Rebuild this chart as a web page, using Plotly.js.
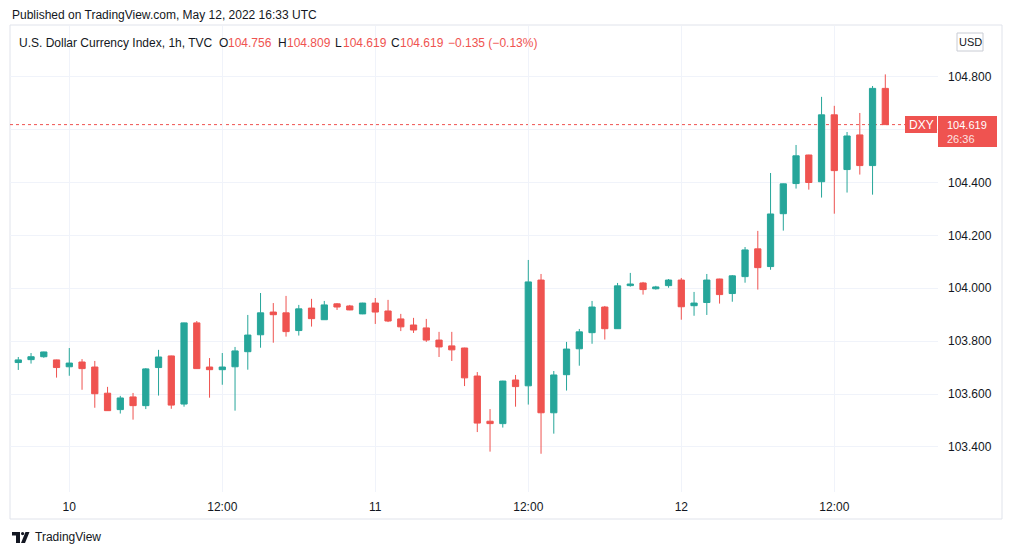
<!DOCTYPE html>
<html>
<head>
<meta charset="utf-8">
<script src="https://cdn.plot.ly/plotly-3.0.1.min.js"></script>
<style>html,body{margin:0;padding:0;background:#fff;}#chart{width:1012px;height:555px;}</style>
</head>
<body>
<div id="chart"></div>
<script>
const times = [
'2022-05-09 20:00','2022-05-09 21:00','2022-05-09 22:00','2022-05-09 23:00',
'2022-05-10 00:00','2022-05-10 01:00','2022-05-10 02:00','2022-05-10 03:00','2022-05-10 04:00','2022-05-10 05:00',
'2022-05-10 06:00','2022-05-10 07:00','2022-05-10 08:00','2022-05-10 09:00','2022-05-10 10:00','2022-05-10 11:00',
'2022-05-10 12:00','2022-05-10 13:00','2022-05-10 14:00','2022-05-10 15:00','2022-05-10 16:00','2022-05-10 17:00',
'2022-05-10 18:00','2022-05-10 19:00','2022-05-10 20:00','2022-05-10 21:00','2022-05-10 22:00','2022-05-10 23:00',
'2022-05-11 00:00','2022-05-11 01:00','2022-05-11 02:00','2022-05-11 03:00','2022-05-11 04:00','2022-05-11 05:00',
'2022-05-11 06:00','2022-05-11 07:00','2022-05-11 08:00','2022-05-11 09:00','2022-05-11 10:00','2022-05-11 11:00',
'2022-05-11 12:00','2022-05-11 13:00','2022-05-11 14:00','2022-05-11 15:00','2022-05-11 16:00','2022-05-11 17:00',
'2022-05-11 18:00','2022-05-11 19:00','2022-05-11 20:00','2022-05-11 21:00','2022-05-11 22:00','2022-05-11 23:00',
'2022-05-12 00:00','2022-05-12 01:00','2022-05-12 02:00','2022-05-12 03:00','2022-05-12 04:00','2022-05-12 05:00',
'2022-05-12 06:00','2022-05-12 07:00','2022-05-12 08:00','2022-05-12 09:00','2022-05-12 10:00','2022-05-12 11:00',
'2022-05-12 12:00','2022-05-12 13:00','2022-05-12 14:00','2022-05-12 15:00','2022-05-12 16:00'
];
const openV = [
103.719,103.730,103.741,103.729,
103.703,103.721,103.702,103.603,103.541,103.589,
103.556,103.700,103.744,103.562,103.869,103.702,
103.692,103.703,103.760,103.824,103.910,103.907,
103.840,103.925,103.881,103.941,103.933,103.903,
103.944,103.914,103.884,103.861,103.850,103.804,
103.782,103.774,103.668,103.497,103.488,103.653,
103.631,104.031,103.529,103.673,103.771,103.832,
103.929,103.847,104.010,104.020,103.998,104.010,
104.031,103.934,103.946,104.035,103.980,104.044,
104.149,104.082,104.282,104.396,104.504,104.403,
104.656,104.449,104.580,104.464,104.756
];
const highV = [
103.740,103.755,103.760,103.730,
103.774,103.732,103.725,103.627,103.593,103.604,
103.698,103.767,103.745,103.870,103.876,103.736,
103.755,103.778,103.899,103.982,103.944,103.971,
103.937,103.960,103.952,103.944,103.937,103.945,
103.963,103.956,103.903,103.888,103.884,103.835,
103.835,103.775,103.683,103.543,103.650,103.672,
104.107,104.054,103.687,103.797,103.846,103.952,
103.933,104.020,104.058,104.024,104.009,104.035,
104.039,103.986,104.054,104.036,104.050,104.156,
104.217,104.436,104.396,104.542,104.505,104.724,
104.690,104.591,104.663,104.765,104.809
];
const lowV = [
103.691,103.715,103.737,103.662,
103.669,103.616,103.548,103.536,103.526,103.503,
103.543,103.594,103.544,103.552,103.695,103.586,
103.635,103.537,103.692,103.775,103.794,103.817,
103.821,103.855,103.880,103.918,103.917,103.902,
103.865,103.872,103.838,103.831,103.797,103.740,
103.725,103.630,103.456,103.382,103.473,103.552,
103.560,103.374,103.450,103.613,103.707,103.790,
103.806,103.846,104.006,103.976,103.995,104.002,
103.881,103.896,103.899,103.942,103.949,104.021,
103.995,104.070,104.218,104.377,104.373,104.343,
104.282,104.362,104.430,104.354,104.619
];
const closeV = [
103.729,103.741,103.759,103.700,
103.717,103.696,103.601,103.537,103.585,103.556,
103.695,103.740,103.558,103.869,103.696,103.692,
103.702,103.763,103.823,103.907,103.900,103.836,
103.922,103.885,103.937,103.929,103.918,103.944,
103.910,103.876,103.854,103.842,103.804,103.778,
103.767,103.661,103.490,103.488,103.649,103.628,
104.024,103.529,103.672,103.770,103.835,103.929,
103.847,104.009,104.016,103.995,104.005,104.031,
103.930,103.944,104.031,103.976,104.047,104.145,
104.078,104.281,104.395,104.501,104.400,104.656,
104.445,104.576,104.464,104.756,104.619
];
const tickTimes = ['2022-05-10 00:00','2022-05-10 12:00','2022-05-11 00:00','2022-05-11 12:00','2022-05-12 00:00','2022-05-12 12:00'];
const tickLabels = ['10','12:00','11','12:00','12','12:00'];
// 104.600 is covered by the last-price label in the reference, so its text is empty
const priceTicks = [103.4, 103.6, 103.8, 104.0, 104.2, 104.4, 104.6, 104.8];
const priceTickLabels = ['103.400','103.600','103.800','104.000','104.200','104.400','','104.800'];
const lastPrice = 104.619;
const countdown = '26:36';

const UP = '#26a69a', DOWN = '#ef5350', TXT = '#131722';
const FONT = 'Liberation Sans, Arial, sans-serif';
// pixel -> paper helpers (plot area: x 10..938, y 26..492)
const L = 10, R = 938, T = 26, B = 492;
const px = x => (x - L) / (R - L);
const py = y => (B - y) / (B - T);

const trace = {
  type: 'candlestick', x: times, open: openV, high: highV, low: lowV, close: closeV,
  increasing: {line: {color: UP, width: 1}, fillcolor: UP},
  decreasing: {line: {color: DOWN, width: 1}, fillcolor: DOWN},
  whiskerwidth: 0, hoverinfo: 'skip', showlegend: false
};

function ann(x, y, text, color, size, anchor, extra) {
  return Object.assign({xref: 'paper', yref: 'paper', x: px(x), y: py(y), text: text, showarrow: false,
    xanchor: anchor || 'left', yanchor: 'middle', font: {family: FONT, size: size || 12, color: color || TXT}}, extra || {});
}

const annotations = [
  ann(10, 15, 'Published on TradingView.com, May 12, 2022 16:33 UTC', TXT, 12),
  ann(17, 43, 'U.S. Dollar Currency Index, 1h, TVC', TXT, 12),
  ann(217, 43, 'O', TXT, 12), ann(226, 43, '104.756', DOWN, 12),
  ann(276, 43, 'H', TXT, 12), ann(285, 43, '104.809', DOWN, 12),
  ann(333, 43, 'L', TXT, 12), ann(341, 43, '104.619', DOWN, 12),
  ann(389, 43, 'C', TXT, 12), ann(398, 43, '104.619', DOWN, 12),
  ann(446, 43, '\u22120.135 (\u22120.13%)', DOWN, 12),
  ann(970, 42, 'USD', TXT, 11, 'center'),
  ann(921, 124.5, 'DXY', '#ffffff', 12, 'center'),
  ann(946, 131.5, lastPrice.toFixed(3) + '<br><span style="color:#fde3e2">' + countdown + '</span>', '#ffffff', 11, 'left', {borderpad: 0, align: 'left'}),
  ann(33, 537, 'TradingView', TXT, 12)
];

const shapes = [
  {type: 'rect', xref: 'paper', yref: 'paper', x0: px(10), x1: px(1002), y0: py(25), y1: py(519),
   line: {color: '#e0e3eb', width: 1}, fillcolor: 'rgba(0,0,0,0)', layer: 'below'},
  {type: 'line', xref: 'paper', yref: 'y', x0: 0, x1: px(905), y0: lastPrice, y1: lastPrice,
   line: {color: DOWN, width: 1, dash: 'dot'}, layer: 'below'},
  {type: 'rect', xref: 'paper', yref: 'paper', x0: px(905), x1: px(937), y0: py(116), y1: py(133),
   line: {width: 0}, fillcolor: DOWN},
  {type: 'rect', xref: 'paper', yref: 'paper', x0: px(938), x1: px(997), y0: py(116), y1: py(147),
   line: {width: 0}, fillcolor: DOWN},
  {type: 'rect', xref: 'paper', yref: 'paper', x0: px(957), x1: px(983), y0: py(33), y1: py(51),
   line: {color: '#c9ccd4', width: 1}, fillcolor: '#ffffff'},
  // TradingView logo mark
  {type: 'path', xref: 'paper', yref: 'paper',
   path: 'M' + px(12) + ',' + py(532) + ' L' + px(20) + ',' + py(532) + ' L' + px(20) + ',' + py(543) + ' L' + px(16) + ',' + py(543) + ' L' + px(16) + ',' + py(535.5) + ' L' + px(12) + ',' + py(535.5) + ' Z',
   line: {width: 0}, fillcolor: TXT},
  {type: 'circle', xref: 'paper', yref: 'paper', x0: px(21), x1: px(24.2), y0: py(532), y1: py(535.2),
   line: {width: 0}, fillcolor: TXT},
  {type: 'path', xref: 'paper', yref: 'paper',
   path: 'M' + px(25.5) + ',' + py(532) + ' L' + px(29.5) + ',' + py(532) + ' L' + px(25) + ',' + py(543) + ' L' + px(21) + ',' + py(543) + ' Z',
   line: {width: 0}, fillcolor: TXT}
];

const layout = {
  width: 1012, height: 555,
  margin: {l: L, r: 1012 - R, t: T, b: 555 - B, pad: 0},
  paper_bgcolor: '#ffffff', plot_bgcolor: '#ffffff',
  font: {family: FONT, size: 12, color: TXT},
  showlegend: false, dragmode: false,
  xaxis: {
    type: 'date', range: ['2022-05-09 19:21', '2022-05-12 20:08'],
    rangeslider: {visible: false},
    tickmode: 'array', tickvals: tickTimes, ticktext: tickLabels,
    showgrid: true, gridcolor: '#f0f3fa', gridwidth: 1,
    zeroline: false, showline: false, ticks: '', ticklabelstandoff: 6,
    tickfont: {family: FONT, size: 12, color: TXT}
  },
  yaxis: {
    side: 'right', range: [103.2293, 104.992],
    tickmode: 'array', tickvals: priceTicks, ticktext: priceTickLabels,
    showgrid: true, gridcolor: '#f0f3fa', gridwidth: 1,
    zeroline: false, showline: false, ticks: '', ticklabelstandoff: 9,
    tickfont: {family: FONT, size: 12, color: TXT}
  },
  shapes: shapes, annotations: annotations
};

Plotly.newPlot('chart', [trace], layout, {displayModeBar: false, staticPlot: true});
</script>
</body>
</html>
